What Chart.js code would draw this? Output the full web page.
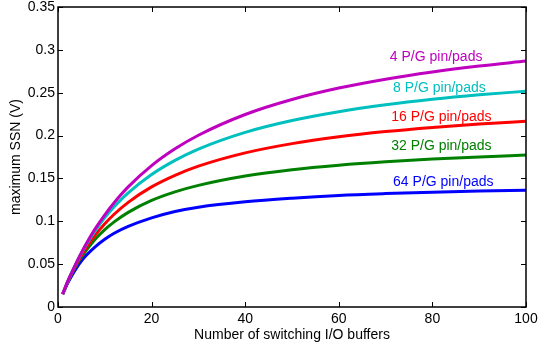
<!DOCTYPE html>
<html>
<head>
<meta charset="utf-8">
<script src="https://cdn.jsdelivr.net/npm/chart.js@4/dist/chart.umd.min.js"></script>
<style>
  html, body { margin: 0; padding: 0; background: #fff; }
</style>
</head>
<body>
<canvas id="ssnChart" width="538" height="345"></canvas>
<script>
// number of switching I/O buffers
const buffers = [1, 2, 3, 4, 5, 6, 8, 10, 12, 15, 20, 25, 30, 40, 50, 60, 70, 80, 90, 100];

// maximum SSN (V)
const ssn4  = [0.0150, 0.0290, 0.0411, 0.0527, 0.0635, 0.0736, 0.0917, 0.1076, 0.1217, 0.1401, 0.1649, 0.1845, 0.2004, 0.2246, 0.2421, 0.2554, 0.2658, 0.2742, 0.2811, 0.2869];
const ssn8  = [0.0150, 0.0287, 0.0410, 0.0523, 0.0628, 0.0724, 0.0895, 0.1043, 0.1170, 0.1332, 0.1546, 0.1711, 0.1843, 0.2038, 0.2176, 0.2279, 0.2359, 0.2423, 0.2475, 0.2518];
const ssn16 = [0.0150, 0.0283, 0.0400, 0.0506, 0.0602, 0.0690, 0.0842, 0.0971, 0.1082, 0.1221, 0.1401, 0.1536, 0.1643, 0.1798, 0.1906, 0.1986, 0.2047, 0.2095, 0.2134, 0.2167];
const ssn32 = [0.0150, 0.0280, 0.0392, 0.0492, 0.0580, 0.0658, 0.0793, 0.0902, 0.0993, 0.1104, 0.1243, 0.1343, 0.1419, 0.1528, 0.1602, 0.1655, 0.1695, 0.1726, 0.1751, 0.1772];
const ssn64 = [0.0150, 0.0270, 0.0370, 0.0460, 0.0535, 0.0600, 0.0705, 0.0790, 0.0860, 0.0940, 0.1040, 0.1115, 0.1165, 0.1228, 0.1270, 0.1302, 0.1323, 0.1339, 0.1352, 0.1363];

const seriesNames = ['4 P/G pin/pads', '8 P/G pin/pads', '16 P/G pin/pads', '32 P/G pin/pads', '64 P/G pin/pads'];
const seriesData = [ssn4, ssn8, ssn16, ssn32, ssn64];
const seriesColors = ['#bf00bf', '#00bfbf', '#ff0000', '#008000', '#0000ff'];

const xTicks = [0, 20, 40, 60, 80, 100];
const yTicks = [0, 0.05, 0.1, 0.15, 0.2, 0.25, 0.3, 0.35];

// where the inline labels sit (data units, left edge / middle)
const labelSpots = [[70.9, 0.292], [71.6, 0.255], [71.2, 0.221], [71.2, 0.1875], [71.6, 0.146]];

const FONT = '"Liberation Sans", Arial, sans-serif';

const boxAndLabels = {
  id: 'boxAndLabels',
  afterDatasetsDraw(chart) {
    const { ctx, chartArea: a, scales: { x, y } } = chart;
    ctx.save();
    ctx.strokeStyle = '#000';
    ctx.lineWidth = 1.5;
    ctx.strokeRect(a.left, a.top, a.right - a.left, a.bottom - a.top);
    ctx.lineWidth = 1;
    ctx.beginPath();
    xTicks.forEach(v => {
      const px = Math.round(x.getPixelForValue(v)) + 0.5;
      ctx.moveTo(px, a.bottom); ctx.lineTo(px, a.bottom - 5);
      ctx.moveTo(px, a.top); ctx.lineTo(px, a.top + 5);
    });
    yTicks.forEach(v => {
      const py = Math.round(y.getPixelForValue(v)) + 0.5;
      ctx.moveTo(a.left, py); ctx.lineTo(a.left + 5, py);
      ctx.moveTo(a.right, py); ctx.lineTo(a.right - 5, py);
    });
    ctx.stroke();

    ctx.font = '14px ' + FONT;
    ctx.textAlign = 'left';
    ctx.textBaseline = 'middle';
    labelSpots.forEach((p, i) => {
      ctx.fillStyle = seriesColors[i];
      ctx.fillText(seriesNames[i], x.getPixelForValue(p[0]), y.getPixelForValue(p[1]));
    });
    ctx.restore();
  }
};

new Chart(document.getElementById('ssnChart').getContext('2d'), {
  type: 'line',
  data: {
    datasets: seriesData.map((d, i) => ({
      label: seriesNames[i],
      data: d.map((v, j) => ({ x: buffers[j], y: v })),
      borderColor: seriesColors[i],
      backgroundColor: seriesColors[i],
      borderWidth: 3,
      pointRadius: 0,
      cubicInterpolationMode: 'monotone',
      fill: false,
    })),
  },
  options: {
    responsive: false,
    animation: false,
    devicePixelRatio: 1,
    layout: { padding: { top: 7, right: 12, left: 0, bottom: 0 } },
    plugins: { legend: { display: false }, tooltip: { enabled: false } },
    scales: {
      x: {
        type: 'linear',
        min: 0,
        max: 100,
        afterFit: s => { s.height = 38; s.paddingLeft = 0; s.paddingRight = 0; },
        afterBuildTicks: s => { s.ticks = xTicks.map(v => ({ value: v })); },
        grid: { display: false, drawTicks: false },
        border: { display: false },
        ticks: { color: '#000', padding: 5, maxRotation: 0, font: { family: FONT, size: 14, lineHeight: 1 } },
        title: {
          display: true,
          text: 'Number of switching I/O buffers',
          color: '#000',
          font: { family: FONT, size: 14 },
          padding: { top: 0, bottom: 1 },
        },
      },
      y: {
        type: 'linear',
        min: 0,
        max: 0.35,
        afterFit: s => { s.width = 58; s.paddingTop = 0; s.paddingBottom = 0; },
        afterBuildTicks: s => { s.ticks = yTicks.map(v => ({ value: v })); },
        grid: { display: false, drawTicks: false },
        border: { display: false },
        ticks: {
          color: '#000',
          padding: 3,
          font: { family: FONT, size: 14, lineHeight: 1 },
          callback: v => String(+v.toFixed(2)),
        },
        title: {
          display: true,
          text: 'maximum SSN (V)',
          color: '#000',
          font: { family: FONT, size: 14 },
          padding: { top: 8, bottom: 0 },
        },
      },
    },
  },
  plugins: [boxAndLabels],
});
</script>
</body>
</html>
